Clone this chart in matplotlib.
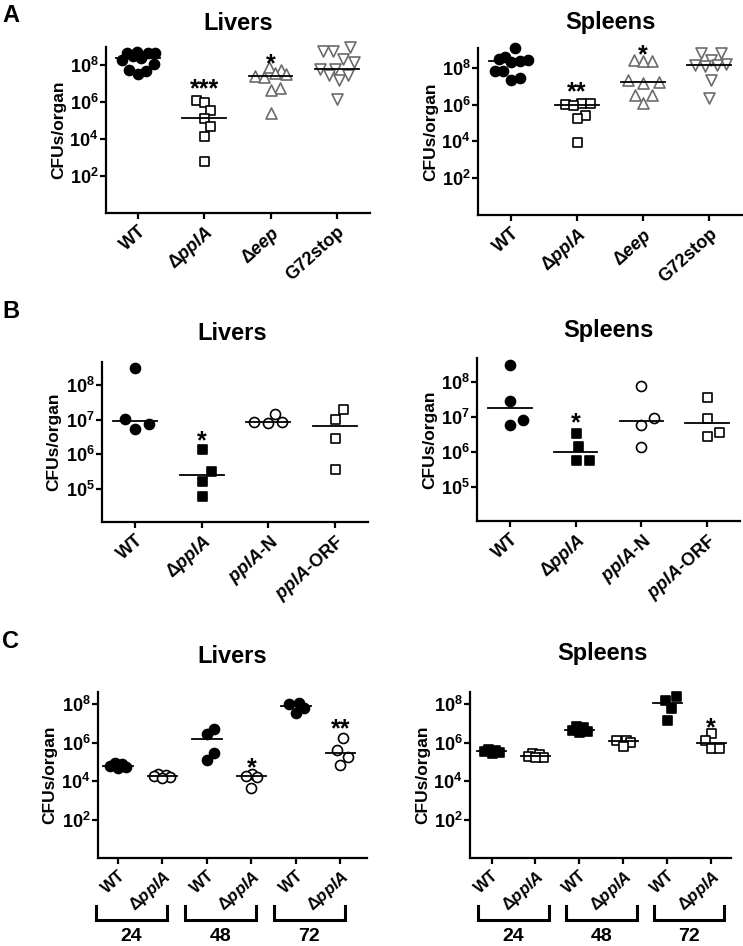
import numpy as np
import matplotlib
matplotlib.use("Agg")
import matplotlib.pyplot as plt
from matplotlib.ticker import NullLocator
from matplotlib.transforms import blended_transform_factory

plt.rcParams['font.family'] = ['Liberation Sans', 'DejaVu Sans']
plt.rcParams['font.weight'] = 'bold'
plt.rcParams['mathtext.fontset'] = 'custom'
plt.rcParams['mathtext.rm'] = 'Liberation Sans:bold'
plt.rcParams['mathtext.it'] = 'Liberation Sans:italic:bold'
plt.rcParams['mathtext.bf'] = 'Liberation Sans:bold'

W, H = 743, 946

# ---- data (log10 CFUs/organ) ----
a_labels = ['WT', 'Δ$\\mathit{pplA}$', 'Δ$\\mathit{eep}$', 'G72stop']
a_liver = [
    [8.72, 8.70, 8.70, 8.68, 8.50, 8.38, 8.30, 8.10, 7.75, 7.70, 7.55],
    [6.13, 6.04, 5.59, 5.14, 4.70, 4.16, 2.82],
    [7.91, 7.73, 7.60, 7.55, 7.45, 7.40, 6.75, 6.66, 5.41],
    [8.98, 8.80, 8.80, 8.36, 8.18, 7.82, 7.80, 7.46, 7.46, 7.20, 6.20],
]
a_spleen = [
    [9.09, 8.60, 8.50, 8.45, 8.40, 8.30, 7.85, 7.82, 7.45, 7.36],
    [6.10, 6.08, 6.05, 6.00, 5.45, 5.27, 3.95],
    [8.42, 8.40, 8.35, 7.33, 7.25, 7.20, 6.55, 6.55, 6.10],
    [8.82, 8.82, 8.45, 8.20, 8.18, 8.15, 8.10, 7.36, 6.36],
]
a_liver_stars = ['', '***', '*', '']
a_liver_star_y = [0, 7.1, 8.45, 0]
a_spleen_stars = ['', '**', '*', '']
a_spleen_star_y = [0, 7.09, 9.09, 0]

b_labels = ['WT', 'Δ$\\mathit{pplA}$', '$\\mathit{pplA}$-N', '$\\mathit{pplA}$-ORF']
b_liver = [
    [8.51, 7.03, 6.89, 6.74],
    [6.16, 5.51, 5.23, 4.79],
    [6.95, 6.93, 6.92, 7.16],
    [7.30, 7.01, 6.48, 5.57],
]
b_spleen = [
    [8.50, 7.46, 6.90, 6.77],
    [6.55, 6.16, 5.78, 5.78],
    [7.89, 6.98, 6.78, 6.14],
    [7.57, 6.98, 6.58, 6.45],
]
b_liver_stars = ['', '*', '', '']
b_liver_star_y = [0, 6.6, 0, 0]
b_spleen_stars = ['', '*', '', '']
b_spleen_star_y = [0, 7.03, 0, 0]

c_labels = ['WT', 'Δ$\\mathit{pplA}$'] * 3
c_hours = ['24', '48', '72']
c_liver = [
    [4.94, 4.88, 4.81, 4.75, 4.68],
    [4.38, 4.30, 4.26, 4.20, 4.15],
    [6.73, 6.43, 5.49, 5.11],
    [4.38, 4.29, 4.22, 3.66],
    [8.09, 8.03, 7.79, 7.57],
    [6.24, 5.64, 5.26, 4.86],
]
c_spleen = [
    [5.68, 5.60, 5.56, 5.51, 5.46],
    [5.45, 5.40, 5.32, 5.26, 5.24],
    [6.85, 6.80, 6.68, 6.60, 6.55],
    [6.16, 6.12, 6.06, 5.84],
    [8.43, 8.20, 7.83, 7.18],
    [6.51, 6.14, 5.75, 5.75],
]
c_liver_stars = ['', '', '', '*', '', '**']
c_liver_star_y = [0, 0, 0, 5.06, 0, 7.08]
c_spleen_stars = ['', '', '', '', '', '*']
c_spleen_star_y = [0, 0, 0, 0, 0, 7.15]

GRAY = '#6b6b6b'


def px_rect(x0, y0, x1, y1):
    return [x0 / W, 1 - y1 / H, (x1 - x0) / W, (y1 - y0) / H]


def swarm_x(ax, xc, logs, diam, fx, fy, maxw):
    # beeswarm in pixel space, limited to +-maxw px; overlaps allowed when crowded
    logs = np.asarray(logs, dtype=float)
    pts = ax.transData.transform(np.column_stack([np.full(len(logs), xc), 10 ** logs]))
    cands = [0.0]
    for s in np.arange(0.5, maxw + 0.01, 0.5):
        cands += [s, -s]
    wx, wy = diam * fx, diam * fy
    placed = []
    out = np.zeros(len(logs))
    inv = ax.transData.inverted()
    for i in np.argsort(logs, kind='stable'):
        px, py = pts[i]
        best, best_score = 0.0, np.inf
        for c in cands:
            score = max([1 - ((px + c - qx) / wx) ** 2 - ((py - qy) / wy) ** 2 for qx, qy in placed] + [0])
            if score <= 0:
                best = c
                break
            if score < best_score - 1e-9:
                best, best_score = c, score
        placed.append((px + best, py))
        out[i] = inv.transform((px + best, py))[0]
    return out


def setup(ax, ylim, yticks, xlim, labels, fs=13, rot=42):
    ax.set_yscale('log')
    ax.set_ylim(10 ** ylim[0], 10 ** ylim[1])
    ax.set_xlim(*xlim)
    ax.set_yticks([10.0 ** k for k in yticks])
    ax.set_yticklabels(['$10^{%d}$' % k for k in yticks], fontsize=13)
    ax.yaxis.set_minor_locator(NullLocator())
    ax.set_xticks(range(len(labels)))
    ax.set_xticklabels(labels, rotation=rot, ha='right', rotation_mode='anchor', fontsize=fs)
    for s in ['top', 'right']:
        ax.spines[s].set_visible(False)
    for s in ['left', 'bottom']:
        ax.spines[s].set_linewidth(1.6)
    ax.tick_params(axis='both', width=1.6, length=4.5, pad=1.0)
    ax.tick_params(axis='x', pad=2.5)
    ax.set_ylabel('CFUs/organ', fontsize=12.5, fontweight='bold')
    ax.yaxis.set_label_coords(-0.152, 0.5)


def draw_groups(ax, groups, styles, stars, star_y, spread, star_fs=18):
    for i, (vals, st) in enumerate(zip(groups, styles)):
        marker, face, edge, diam = st
        xs = swarm_x(ax, i, vals, diam, *spread)
        size = (diam * 72 / 100) ** 2
        ax.scatter(xs, 10 ** np.asarray(vals), marker=marker, s=size, facecolors=face,
                   edgecolors=edge, linewidths=1.2, zorder=3, clip_on=False)
        med = np.median(10 ** np.asarray(vals))
        ax.plot([i - 0.33, i + 0.33], [med, med], color='black', lw=1.3, zorder=4)
        if stars[i]:
            ax.annotate(stars[i], xy=(i, 10 ** star_y[i]), xytext=(0, -0.57 * star_fs),
                        textcoords='offset points', ha='center', va='baseline',
                        fontsize=star_fs, fontweight='bold')


fig = plt.figure(figsize=(W / 100, H / 100), dpi=100)

dot = ('o', 'black', 'black', 10)
sq_open = ('s', 'white', 'black', 9)
sq_fill = ('s', 'black', 'black', 9)
circ_open = ('o', 'white', 'black', 10)
tri_up = ('^', 'white', GRAY, 11)
tri_dn = ('v', 'white', GRAY, 11)

# ---- panel A ----
ax = fig.add_axes(px_rect(106, 47, 370, 213))
setup(ax, (0, 9), [2, 4, 6, 8], (-0.48, 3.5), a_labels)
draw_groups(ax, a_liver, [dot, sq_open, tri_up, tri_dn], a_liver_stars, a_liver_star_y, (0.85, 1.7, 17))

ax = fig.add_axes(px_rect(478, 48, 742, 215))
setup(ax, (0, 9.08), [2, 4, 6, 8], (-0.5, 3.5), a_labels)
draw_groups(ax, a_spleen, [dot, sq_open, tri_up, tri_dn], a_spleen_stars, a_spleen_star_y, (0.85, 1.7, 17))

# ---- panel B ----
ax = fig.add_axes(px_rect(102, 362, 368, 522))
setup(ax, (4.03, 8.68), [5, 6, 7, 8], (-0.5, 3.5), b_labels)
draw_groups(ax, b_liver, [dot, sq_fill, circ_open, sq_open], b_liver_stars, b_liver_star_y, (1.4, 1.5, 20))

ax = fig.add_axes(px_rect(477, 358, 740, 521))
setup(ax, (4.02, 8.69), [5, 6, 7, 8], (-0.5, 3.5), b_labels)
draw_groups(ax, b_spleen, [dot, sq_fill, circ_open, sq_open], b_spleen_stars, b_spleen_star_y, (1.4, 1.5, 20))

# ---- panel C ----
for rect, data, styles, stars, star_y, shift in [
        (px_rect(98, 692, 367, 858), c_liver, [dot, circ_open] * 3, c_liver_stars, c_liver_star_y, -0.2),
        (px_rect(470, 692, 731, 858), c_spleen, [sq_fill, sq_open] * 3, c_spleen_stars, c_spleen_star_y, 0.0)]:
    ax = fig.add_axes(rect)
    xl = (-0.45, 5.6) if shift else (-0.49, 5.45)
    setup(ax, (0, 8.64), [2, 4, 6, 8], xl, c_labels, fs=12)
    draw_groups(ax, data, styles, stars, star_y, (0.8, 1.6, 10))
    tr = blended_transform_factory(ax.transData, ax.transAxes)
    for k, hr in enumerate(c_hours):
        xc = 2 * k + 0.5 + shift
        ax.plot([xc - 0.8, xc - 0.8, xc + 0.8, xc + 0.8], [-0.29, -0.375, -0.375, -0.29],
                color='black', lw=2.2, transform=tr, clip_on=False, solid_joinstyle='miter')
        ax.text(xc, -0.475, hr, transform=tr, ha='center', va='center', fontsize=14, fontweight='bold')

# titles and panel letters
for cx, by, t in [(238, 30, 'Livers'), (610, 28.5, 'Spleens'),
                  (232, 340, 'Livers'), (608, 337, 'Spleens'),
                  (232.5, 663, 'Livers'), (602, 660, 'Spleens')]:
    fig.text(cx / W, 1 - by / H, t, ha='center', va='baseline', fontsize=17, fontweight='bold')
for y, t in [(4, 'A'), (300, 'B'), (630, 'C')]:
    fig.text(2 / W, 1 - y / H, t, ha='left', va='top', fontsize=17, fontweight='bold')

fig.savefig('out.png', dpi=100)
